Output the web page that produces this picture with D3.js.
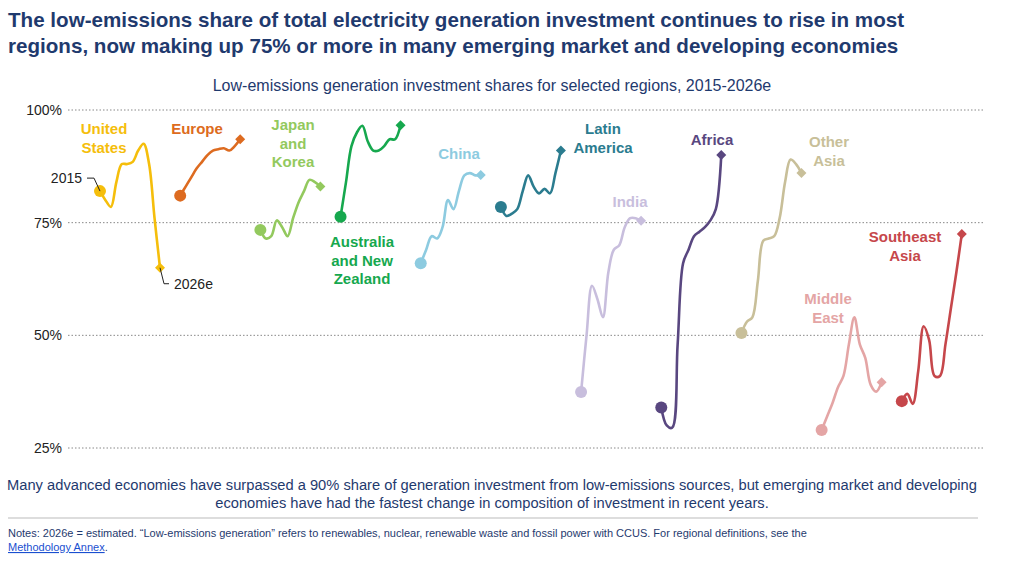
<!DOCTYPE html>
<html><head><meta charset="utf-8">
<script src="https://cdn.jsdelivr.net/npm/d3@7"></script>
<style>body{margin:0;background:#fff;font-family:"Liberation Sans",Arial,sans-serif}</style>
</head><body><svg id="c" width="1014" height="562"></svg>
<script>
const regions = ["United States","Europe","Japan and Korea","Australia and New Zealand","China","Latin America","India","Africa","Other Asia","Middle East","Southeast Asia"];
const years = [2015,2016,2017,2018,2019,2020,2021,2022,2023,2024,2025,2026];
const usValues = [82,80,78.5,84,88,88,88.5,91,92.5,88,76,65];
const europeValues = [81,83,85,87,88.5,90,91,91.3,91.5,91,92,93.5];
const japanKoreaValues = [73.4,71.5,72,75.5,74,72,76,79.5,82,84.5,84,83];
const anzValues = [76.3,84,92,95,96.5,93,91,91,92,93.5,93.5,96.6];
const chinaValues = [66,69,72,71.5,74,80,78,82,85.5,86,85.5,85.6];
const latamValues = [78.5,76.5,77,78,82,85.5,83,81.5,82.5,81.5,86,91];
const indiaValues = [37.4,50,61,58,54,64,69,70,74,76,76,75.4];
const africaValues = [34,30,29.5,48,66,69,72,73,74,75.5,78,90];
const otherAsiaValues = [50.5,53,54,62,71,71.5,72,76,84,89,88,86];
const middleEastValues = [29,32,35,38.5,41,48,54,48,45,39,37.5,39.6];
const seaValues = [35.4,37,34.8,42,52,49,41,41,48,56,64,72.5];
const seriesValues = [usValues,europeValues,japanKoreaValues,anzValues,chinaValues,latamValues,indiaValues,africaValues,otherAsiaValues,middleEastValues,seaValues];
const colors = ["#f5be0b","#dd6b20","#93c95e","#16a84e","#8dcbe0","#2b7c8f","#c8bedd","#594780","#c8bf99","#e4a5a5","#c6474b"];
const yTicks = [25,50,75,100];
const labels = [
 {t:["United","States"],x:104,y:134},
 {t:["Europe"],x:197,y:134},
 {t:["Japan","and","Korea"],x:293,y:130},
 {t:["Australia","and New","Zealand"],x:362,y:247},
 {t:["China"],x:459,y:159},
 {t:["Latin","America"],x:603,y:134},
 {t:["India"],x:630,y:207},
 {t:["Africa"],x:712,y:145},
 {t:["Other","Asia"],x:829,y:147},
 {t:["Middle","East"],x:828,y:304},
 {t:["Southeast","Asia"],x:905,y:242}
];
const svg = d3.select("#c");
const navy = "#1f3a6e";
const y = d3.scaleLinear().domain([25,100]).range([448,110]);
const xr = d3.scaleBand().domain(regions).range([100,982]);
const xy = d3.scaleLinear().domain([2015,2026]).range([0,60]);

svg.append("text").attr("x",8).attr("y",27).attr("font-size",20.6).attr("font-weight","bold").attr("fill",navy)
 .text("The low-emissions share of total electricity generation investment continues to rise in most");
svg.append("text").attr("x",8).attr("y",53).attr("font-size",20.6).attr("font-weight","bold").attr("fill",navy)
 .text("regions, now making up 75% or more in many emerging market and developing economies");
svg.append("text").attr("x",492).attr("y",91).attr("text-anchor","middle").attr("font-size",16).attr("fill",navy)
 .text("Low-emissions generation investment shares for selected regions, 2015-2026e");

const g = svg.append("g");
yTicks.forEach(v=>{
  g.append("line").attr("x1",68).attr("x2",983).attr("y1",y(v)).attr("y2",y(v))
   .attr("stroke","#888").attr("stroke-dasharray","1.5,2").attr("stroke-width",1);
  g.append("text").attr("x",62).attr("y",y(v)+5).attr("text-anchor","end").attr("font-size",14).attr("fill","#222").text(v+"%");
});

const line = d3.line().curve(d3.curveCatmullRom.alpha(0.5));
regions.forEach((r,i)=>{
  const pts = years.map((yr,j)=>[xr(r)+xy(yr), y(seriesValues[i][j])]);
  g.append("path").attr("d",line(pts)).attr("fill","none").attr("stroke",colors[i]).attr("stroke-width",2.6);
  g.append("circle").attr("cx",pts[0][0]).attr("cy",pts[0][1]).attr("r",6).attr("fill",colors[i]);
  const e = pts[pts.length-1];
  g.append("path").attr("d",d3.symbol(d3.symbolDiamond2,64)()).attr("transform",`translate(${e[0]},${e[1]})`).attr("fill",colors[i]);
  const L = labels[i];
  const t = g.append("text").attr("text-anchor","middle").attr("font-size",15).attr("font-weight","bold").attr("fill",colors[i]);
  L.t.forEach((s,k)=>t.append("tspan").attr("x",L.x).attr("y",L.y+k*18.5).text(s));
});
const us0=[xr(regions[0])+xy(2015), y(usValues[0])];
const usE=[xr(regions[0])+xy(2026), y(usValues[11])];
g.append("path").attr("d",`M${us0[0]},${us0[1]} L${us0[0]-6},${us0[1]-13} L${us0[0]-13},${us0[1]-13}`).attr("fill","none").attr("stroke","#222");
g.append("text").attr("x",us0[0]-18).attr("y",us0[1]-8).attr("text-anchor","end").attr("font-size",14).attr("fill","#222").text("2015");
g.append("path").attr("d",`M${usE[0]},${usE[1]} L${usE[0]+4},${usE[1]+16} L${usE[0]+9},${usE[1]+16}`).attr("fill","none").attr("stroke","#222");
g.append("text").attr("x",usE[0]+14).attr("y",usE[1]+21).attr("font-size",14).attr("fill","#222").text("2026e");

svg.append("text").attr("x",492).attr("y",490).attr("text-anchor","middle").attr("font-size",14.7).attr("fill",navy)
 .text("Many advanced economies have surpassed a 90% share of generation investment from low-emissions sources, but emerging market and developing");
svg.append("text").attr("x",492).attr("y",508).attr("text-anchor","middle").attr("font-size",14.7).attr("fill",navy)
 .text("economies have had the fastest change in composition of investment in recent years.");
svg.append("line").attr("x1",8).attr("x2",978).attr("y1",518).attr("y2",518).attr("stroke","#bbb");
svg.append("text").attr("x",8).attr("y",537).attr("font-size",11).attr("fill",navy)
 .text("Notes: 2026e = estimated. “Low-emissions generation” refers to renewables, nuclear, renewable waste and fossil power with CCUS. For regional definitions, see the");
svg.append("text").attr("x",8).attr("y",551).attr("font-size",11).attr("fill",navy)
 .html('<tspan fill="#1a4fd0" text-decoration="underline">Methodology Annex</tspan>.');
</script></body></html>
